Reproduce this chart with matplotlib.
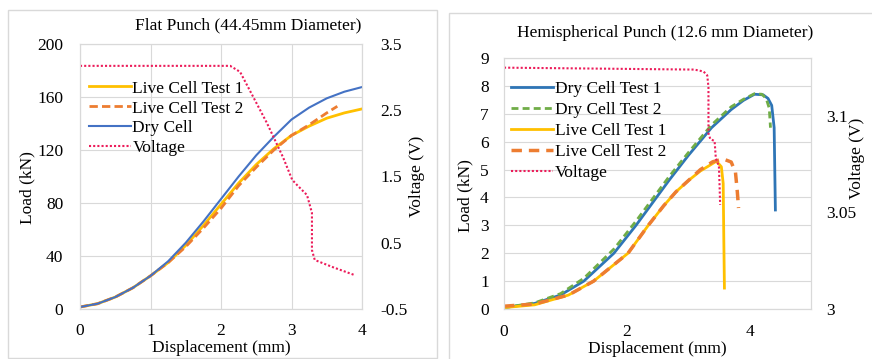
import matplotlib
matplotlib.use("Agg")
import matplotlib.pyplot as plt
from matplotlib.patches import Rectangle

plt.rcParams["font.family"] = ["Liberation Serif", "DejaVu Serif"]

# ---- left chart: flat punch ----
flat_x = [0, 0.25, 0.5, 0.75, 1, 1.25, 1.5, 1.75, 2, 2.25, 2.5, 2.75, 3, 3.25, 3.5, 3.75, 4]
flat_dry = [1.5, 4, 9, 16, 25, 36, 50, 66, 83, 100, 116, 130, 143, 152, 159, 164, 167.5]
flat_live1 = [1.5, 4, 9, 16, 25, 35, 48, 63, 79, 95, 109, 121, 131, 138, 144, 148, 151]
flat_live2_x = [0, 0.25, 0.5, 0.75, 1, 1.25, 1.5, 1.75, 2, 2.25, 2.5, 2.75, 3, 3.25, 3.5, 3.65]
flat_live2 = [1.5, 4, 9, 16, 25, 35, 47, 61, 76, 93, 107, 120, 131, 139, 148, 153]
flat_volt_x = [0, 2.13, 2.27, 2.65, 2.88, 3.01, 3.08, 3.22, 3.29, 3.29, 3.33, 3.59, 3.9]
flat_volt = [3.17, 3.17, 3.08, 2.31, 1.79, 1.45, 1.37, 1.22, 0.95, 0.39, 0.24, 0.13, 0.01]

# ---- right chart: hemispherical punch ----
dry1_x = [0, 0.5, 0.92, 1.3, 1.79, 2.15, 2.69, 3.0, 3.38, 3.7, 3.9, 4.08, 4.22, 4.3, 4.36, 4.4, 4.41, 4.42]
dry1 = [0.05, 0.2, 0.5, 1.0, 2.0, 3.0, 4.62, 5.5, 6.5, 7.15, 7.48, 7.7, 7.68, 7.55, 7.3, 6.5, 5.0, 3.55]
dry2_x = [0, 0.5, 0.92, 1.3, 1.79, 2.15, 2.69, 3.0, 3.38, 3.7, 3.9, 4.08, 4.2, 4.27, 4.32, 4.34]
dry2 = [0.05, 0.22, 0.55, 1.1, 2.15, 3.15, 4.75, 5.6, 6.6, 7.25, 7.52, 7.72, 7.7, 7.55, 7.2, 6.5]
live1_x = [0, 0.5, 1.05, 1.46, 2.02, 2.35, 2.6, 2.8, 3.0, 3.2, 3.35, 3.46, 3.54, 3.57, 3.58, 3.59]
live1 = [0.05, 0.15, 0.5, 1.0, 2.0, 3.0, 3.7, 4.2, 4.6, 4.95, 5.15, 5.3, 5.1, 4.5, 2.5, 0.75]
live2_x = [0, 0.5, 1.05, 1.46, 2.02, 2.35, 2.6, 2.8, 3.0, 3.2, 3.4, 3.57, 3.7, 3.77, 3.8, 3.82]
live2 = [0.1, 0.18, 0.5, 1.0, 2.0, 3.0, 3.7, 4.2, 4.6, 5.0, 5.28, 5.38, 5.27, 4.9, 4.2, 3.62]
hemi_volt_x = [0, 3.1, 3.25, 3.31, 3.33, 3.33, 3.36, 3.43, 3.45, 3.5, 3.51, 3.52]
hemi_volt = [3.125, 3.124, 3.123, 3.121, 3.115, 3.091, 3.088, 3.087, 3.078, 3.074, 3.065, 3.054]

BLUE_L = "#4472C4"
BLUE_R = "#2E75B6"
GOLD = "#FFC000"
ORANGE = "#ED7D31"
GREEN = "#70AD47"
VOLT = "#EC1C5A"
GRID = "#D9D9D9"
FS = 12.5

W, H = 872, 359
fig = plt.figure(figsize=(W / 100, H / 100), dpi=100)


def px_axes(x0, y0, x1, y1):
    return fig.add_axes([x0 / W, 1 - y1 / H, (x1 - x0) / W, (y1 - y0) / H])


def style(ax, twin):
    for a in (ax, twin):
        a.tick_params(length=0, labelsize=FS)
        for s in a.spines.values():
            s.set_color(GRID)


# frames around each chart
fig.patches.append(Rectangle((8 / W, 1 - 358 / H), 429 / W, 348 / H, transform=fig.transFigure,
                             fill=False, ec=GRID, lw=1))
fig.patches.append(Rectangle((449 / W, 1 - 380 / H), 440 / W, 367 / H, transform=fig.transFigure,
                             fill=False, ec=GRID, lw=1))

# ---- left ----
ax = px_axes(80, 44, 362, 309)
ax2 = ax.twinx()
style(ax, ax2)
ax.set_xlim(0, 4)
ax.set_ylim(0, 200)
ax.set_xticks([0, 1, 2, 3, 4])
ax.set_yticks([0, 40, 80, 120, 160, 200])
ax.grid(True, color=GRID, lw=0.8)
ax.set_axisbelow(True)
ax.tick_params(axis="y", pad=12)
ax.tick_params(axis="x", pad=10)
l1, = ax.plot(flat_x, flat_live1, color=GOLD, lw=2, label="Live Cell Test 1")
l2, = ax.plot(flat_live2_x, flat_live2, color=ORANGE, lw=2, ls=(0, (3, 1.5)), label="Live Cell Test 2")
l3, = ax.plot(flat_x, flat_dry, color=BLUE_L, lw=1.5, label="Dry Cell")
ax2.set_ylim(-0.5, 3.5)
ax2.set_yticks([-0.5, 0.5, 1.5, 2.5, 3.5])
ax2.set_yticklabels(["-0.5", "0.5", "1.5", "2.5", "3.5"])
ax2.tick_params(axis="y", pad=13)
l4, = ax2.plot(flat_volt_x, flat_volt, color=VOLT, lw=1.5, ls=(0, (1, 1)), label="Voltage")
ax.set_xlabel("Displacement (mm)", fontsize=FS, labelpad=0)
ax.xaxis.set_label_coords(0.5, -31 / 265)
ax.set_ylabel("Load (kN)", fontsize=FS)
ax.yaxis.set_label_coords(-45 / 282, 0.46)
ax2.set_ylabel("Voltage (V)", fontsize=FS)
ax2.yaxis.set_label_coords(1 + 47 / 282, 0.5)
ax.legend(handles=[l1, l2, l3, l4], loc="upper left", bbox_to_anchor=(-0.005, 0.902), frameon=False,
          fontsize=FS, handlelength=2.4, handletextpad=0.1, labelspacing=0.22, borderaxespad=0.2)
fig.text(248 / W, 1 - 25 / H, "Flat Punch (44.45mm Diameter)", ha="center", va="center", fontsize=FS)

# ---- right ----
bx = px_axes(504, 58, 811, 309)
bx2 = bx.twinx()
style(bx, bx2)
bx.set_xlim(0, 5)
bx.set_ylim(0, 9)
bx.set_xticks([0, 2, 4])
bx.set_yticks(range(10))
bx.grid(True, axis="y", color=GRID, lw=0.8)
bx.set_axisbelow(True)
bx.tick_params(axis="y", pad=11)
bx.tick_params(axis="x", pad=11)
m1, = bx.plot(dry1_x, dry1, color=BLUE_R, lw=2, label="Dry Cell Test 1")
m2, = bx.plot(dry2_x, dry2, color=GREEN, lw=2, ls=(0, (2.5, 1.5)), label="Dry Cell Test 2")
m3, = bx.plot(live1_x, live1, color=GOLD, lw=2, label="Live Cell Test 1")
m4, = bx.plot(live2_x, live2, color=ORANGE, lw=2.5, ls=(0, (3, 2)), label="Live Cell Test 2")
bx2.set_ylim(3.0, 3.13)
bx2.set_yticks([3.0, 3.05, 3.1])
bx2.set_yticklabels(["3", "3.05", "3.1"])
bx2.tick_params(axis="y", pad=11)
m5, = bx2.plot(hemi_volt_x, hemi_volt, color=VOLT, lw=1.5, ls=(0, (1, 1)), label="Voltage")
bx.set_xlabel("Displacement (mm)", fontsize=FS, labelpad=0)
bx.xaxis.set_label_coords(0.5, -32 / 251)
bx.set_ylabel("Load (kN)", fontsize=FS)
bx.yaxis.set_label_coords(-31 / 307, 0.45)
bx2.set_ylabel("Voltage (V)", fontsize=FS)
bx2.yaxis.set_label_coords(1 + 38 / 307, 0.6)
bx.legend(handles=[m1, m2, m3, m4, m5], loc="upper left", bbox_to_anchor=(-0.01, 0.95), frameon=False,
          fontsize=FS, handlelength=2.4, handletextpad=0.1, labelspacing=0.28, borderaxespad=0.2)
fig.text(665 / W, 1 - 33 / H, "Hemispherical Punch (12.6 mm Diameter)", ha="center", va="center", fontsize=FS)

fig.savefig("out.png", dpi=100)
